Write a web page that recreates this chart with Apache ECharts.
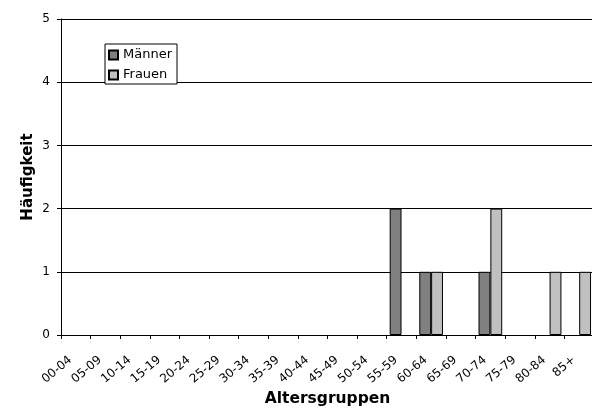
<!DOCTYPE html>
<html>
<head>
<meta charset="utf-8">
<script src="https://cdn.jsdelivr.net/npm/echarts@6/dist/echarts.min.js"></script>
<style>
  html, body { margin: 0; padding: 0; background: #fff; }
  #chart { width: 592px; height: 408px; }
</style>
</head>
<body>
<div id="chart"></div>
<script>
  // Altersgruppen und Häufigkeiten
  var altersgruppen = ['00-04', '05-09', '10-14', '15-19', '20-24', '25-29', '30-34', '35-39', '40-44',
    '45-49', '50-54', '55-59', '60-64', '65-69', '70-74', '75-79', '80-84', '85+'];
  var maenner = [0, 0, 0, 0, 0, 0, 0, 0, 0, 0, 0, 2, 1, 0, 1, 0, 0, 0];
  var frauen = [0, 0, 0, 0, 0, 0, 0, 0, 0, 0, 0, 0, 1, 0, 2, 0, 1, 1];
  var yTicks = [0, 1, 2, 3, 4, 5];

  // Nullwerte nicht als Balken zeichnen (sonst Randlinie auf der Achse)
  function ohneNull(arr) {
    return arr.map(function (v) { return v === 0 ? '-' : v; });
  }

  var font = 'DejaVu Sans';
  var chart = echarts.init(document.getElementById('chart'));

  chart.setOption({
    animation: false,
    backgroundColor: '#fff',
    legend: {
      orient: 'vertical',
      left: 105,
      top: 44,
      padding: [4, 5, 2, 3],
      itemGap: 6,
      itemWidth: 9,
      itemHeight: 9,
      icon: 'rect',
      backgroundColor: '#fff',
      borderColor: '#000',
      borderWidth: 1,
      textStyle: { fontFamily: font, fontSize: 13, color: '#000', lineHeight: 14 },
      data: ['Männer', 'Frauen']
    },
    grid: {
      left: 61,
      top: 19,
      width: 533,
      height: 316,
      containLabel: false,
      outerBoundsMode: 'none'
    },
    xAxis: {
      type: 'category',
      data: altersgruppen,
      name: 'Altersgruppen',
      nameLocation: 'middle',
      nameGap: 56,
      nameMoveOverlap: false,
      nameTextStyle: { fontFamily: font, fontSize: 15.5, fontWeight: 'bold', color: '#000' },
      axisLine: { lineStyle: { color: '#000', width: 1 } },
      axisTick: { show: true, length: 4, lineStyle: { color: '#000' } },
      axisLabel: {
        rotate: 40,
        margin: 19,
        interval: 0,
        padding: [0, 7, 0, 0],
        fontFamily: font,
        fontSize: 12,
        color: '#000'
      }
    },
    yAxis: {
      type: 'value',
      min: yTicks[0],
      max: yTicks[yTicks.length - 1],
      interval: 1,
      name: 'Häufigkeit',
      nameLocation: 'middle',
      nameGap: 25,
      nameMoveOverlap: false,
      nameTextStyle: { fontFamily: font, fontSize: 15, fontWeight: 'bold', color: '#000' },
      axisLine: { show: true, lineStyle: { color: '#000', width: 1 } },
      axisTick: { show: true, length: 4, lineStyle: { color: '#000' } },
      splitLine: { show: true, lineStyle: { color: '#000', width: 1 } },
      axisLabel: { margin: 11, fontFamily: font, fontSize: 12, color: '#000' }
    },
    series: [
      {
        name: 'Männer',
        type: 'bar',
        data: ohneNull(maenner),
        barGap: '0%',
        barCategoryGap: '20%',
        itemStyle: { color: '#808080', borderColor: '#000', borderWidth: 1 }
      },
      {
        name: 'Frauen',
        type: 'bar',
        data: ohneNull(frauen),
        itemStyle: { color: '#c0c0c0', borderColor: '#000', borderWidth: 1 }
      }
    ]
  });
</script>
</body>
</html>
